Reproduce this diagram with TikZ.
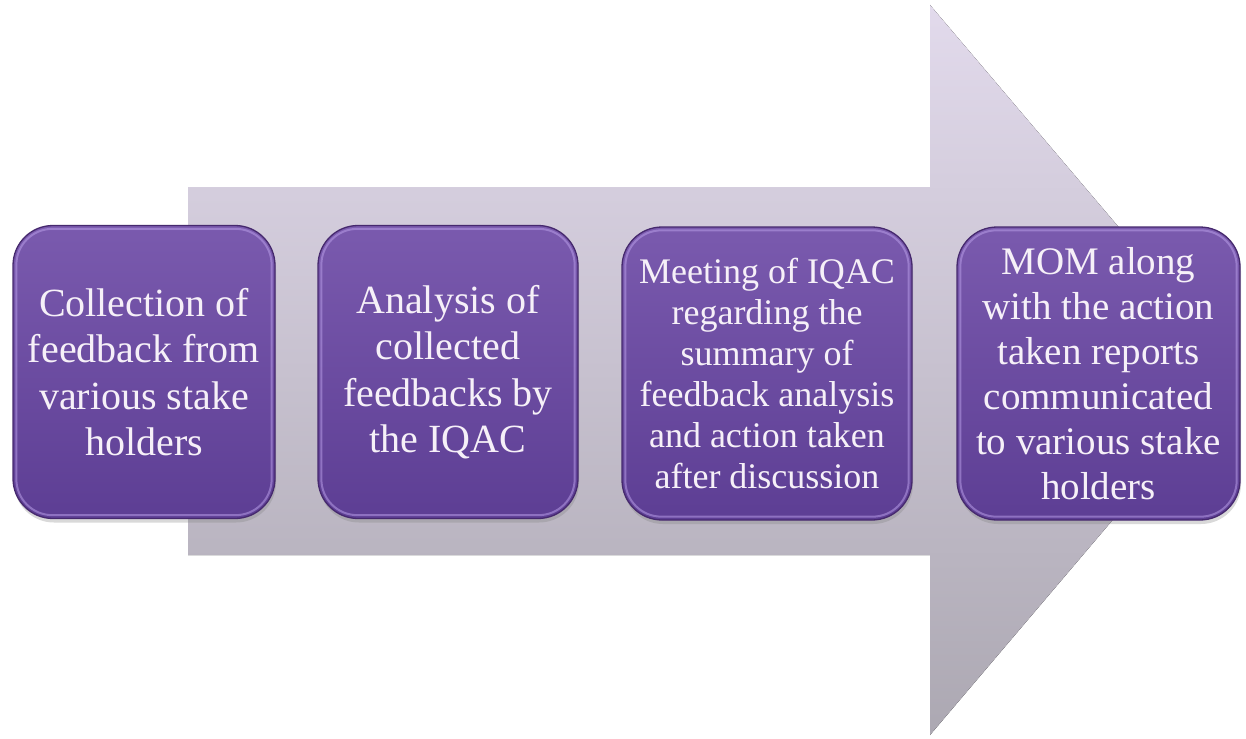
\documentclass[tikz,border=0pt]{standalone}
\usepackage{fontspec}
\setmainfont{Liberation Serif}
\usetikzlibrary{shadows}
\definecolor{arrowtop}{HTML}{E2DAEC}
\definecolor{arrowbot}{HTML}{ACA8B2}
\definecolor{boxtop}{HTML}{7A5AAE}
\definecolor{boxbot}{HTML}{5D3E94}
\definecolor{boxedge}{HTML}{46296E}
\definecolor{boxrim}{HTML}{B79CE6}
\definecolor{boxtext}{HTML}{F6F0F8}
\begin{document}
\begin{tikzpicture}[x=1pt,y=-1pt,
  stepbox/.style={draw=boxedge, line width=1.3pt, rounded corners=40pt,
    top color=boxtop, bottom color=boxbot, text=boxtext, align=center,
    inner sep=0pt, minimum height=293pt,
    drop shadow={opacity=0.3, shadow xshift=1pt, shadow yshift=-4pt},
    font=\fontsize{40}{46.5}\selectfont},
  rim/.style={draw=boxrim, line width=2pt, opacity=0.55, rounded corners=36pt}
]
\useasboundingbox (0,0) rectangle (1246,738);

% the large block arrow behind the steps
\fill[top color=arrowtop, bottom color=arrowbot]
  (188,187) -- (930,187) -- (930,5) -- (1240,370) -- (930,735) -- (930,555) -- (188,555) -- cycle;

% the four steps
\node[stepbox, minimum width=262pt] (b1) at (144,372)
  {Collection of\\feedback from\\various stake\\holders};
\node[stepbox, minimum width=260pt] (b2) at (448,372)
  {Analysis of\\collected\\feedbacks by\\the IQAC};
\node[stepbox, minimum width=290pt, font=\fontsize{36}{41}\selectfont] (b3) at (767,373.5)
  {Meeting of IQAC\\regarding the\\summary of\\feedback analysis\\and action taken\\after discussion};
\node[stepbox, minimum width=283pt, font=\fontsize{39}{45}\selectfont] (b4) at (1098.5,373.5)
  {MOM along\\with the action\\taken reports\\communicated\\to various stake\\holders};

% light inner rims giving the bevelled look
\foreach \b in {b1,b2,b3,b4}
  \draw[rim] ([shift={(4pt,-4pt)}]\b.north west) rectangle ([shift={(-4pt,4pt)}]\b.south east);
\end{tikzpicture}
\end{document}
